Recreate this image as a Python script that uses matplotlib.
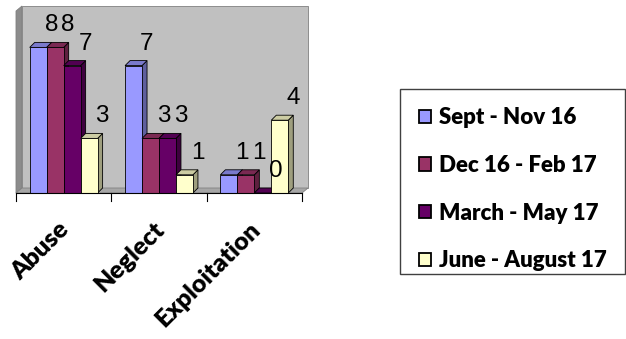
import numpy as np
import matplotlib.pyplot as plt
from matplotlib.patches import Polygon, Patch, Rectangle
from matplotlib.colors import to_rgb

categories = ['Abuse', 'Neglect', 'Exploitation']
series_names = ['Sept - Nov 16', 'Dec 16 - Feb 17', 'March - May 17', 'June - August 17']
sept_nov = [8, 7, 1]
dec_feb = [8, 3, 1]
march_may = [7, 3, 0]
june_aug = [3, 1, 4]
series = [sept_nov, dec_feb, march_may, june_aug]
colors = ['#9999FF', '#993366', '#660066', '#FFFFCC']

W, H = 626, 339
fig = plt.figure(figsize=(W / 100, H / 100), dpi=100)
# axes box = front plane of the 3d plot (pixels 16..302 across, 11..193 down)
ax = fig.add_axes([16 / W, 1 - 193 / H, 286 / W, 182 / H])
ax.set_xlim(0, 3)
ax.set_ylim(0, 10)
ax.axis('off')

px_x = 3 / 286.0   # data units per pixel
px_y = 10 / 182.0
wdx, wdy = 6 * px_x, 5 * px_y   # wall depth
bdx, bdy = 5 * px_x, 5 * px_y   # bar depth


def shade(c, f):
    r, g, b = to_rgb(c)
    return (r * f, g * f, b * f)


def poly(pts, fc, ec='black', lw=0.6, z=1):
    ax.add_patch(Polygon(pts, closed=True, facecolor=fc, edgecolor=ec,
                         linewidth=lw, zorder=z, clip_on=False))


# walls and floor
poly([(0, 0), (0, 10), (wdx, 10 + wdy), (wdx, wdy)], '#8c8c8c', ec='#808080', z=0)
poly([(wdx, wdy), (3 + wdx, wdy), (3 + wdx, 10 + wdy), (wdx, 10 + wdy)], '#c0c0c0', ec='#808080', z=0)
poly([(0, 0), (3, 0), (3 + wdx, wdy), (wdx, wdy)], '#a6a6a6', ec='#808080', z=0)

# bars
bw = 0.178
for j, (vals, c) in enumerate(zip(series, colors)):
    for i, v in enumerate(vals):
        x0 = i + 0.5 + (j - 2) * bw
        z = 2 + i * 10 + j
        poly([(x0 + bw, 0), (x0 + bw + bdx, bdy), (x0 + bw + bdx, v + bdy), (x0 + bw, v)],
             shade(c, 0.62), z=z)
        poly([(x0, v), (x0 + bw, v), (x0 + bw + bdx, v + bdy), (x0 + bdx, v + bdy)],
             shade(c, 0.8), z=z)
        if v > 0:
            poly([(x0, 0), (x0 + bw, 0), (x0 + bw, v), (x0, v)], c, z=z)
        ax.annotate(str(v), xy=(x0 + bw / 2, v), xytext=(13, 22),
                    textcoords='offset pixels', ha='center', va='center',
                    fontsize=17.5, family='Liberation Sans', zorder=50,
                    annotation_clip=False)

# category axis
ax.plot([0, 3], [0, 0], color='black', lw=0.8, clip_on=False, zorder=60)
for t in range(4):
    ax.plot([t, t], [0, -8 * px_y], color='black', lw=0.8, clip_on=False, zorder=60)
for i, name in enumerate(categories):
    ax.annotate(name, xy=(i + 0.5, 0), xytext=(10, -25), textcoords='offset pixels',
                ha='right', va='top', rotation=45, fontsize=18, fontweight=800,
                family='Lato', annotation_clip=False)

# legend box
fig.add_artist(Rectangle((400 / W, 1 - 274 / H), 225 / W, 185 / H, transform=fig.transFigure,
                         facecolor='white', edgecolor='#404040', linewidth=1.0, zorder=0))
handles = [Patch(facecolor=c, edgecolor='black', linewidth=1.3) for c in colors]
leg = fig.legend(handles, series_names, loc='upper left',
                 bbox_to_anchor=(407 / W, 1 - 95 / H),
                 borderaxespad=0, frameon=False,
                 prop={'family': 'Lato', 'weight': 800, 'size': 16},
                 handlelength=0.55, handleheight=0.55, handletextpad=0.35,
                 labelspacing=1.2, borderpad=0.55)

fig.savefig('out.png', dpi=100)
